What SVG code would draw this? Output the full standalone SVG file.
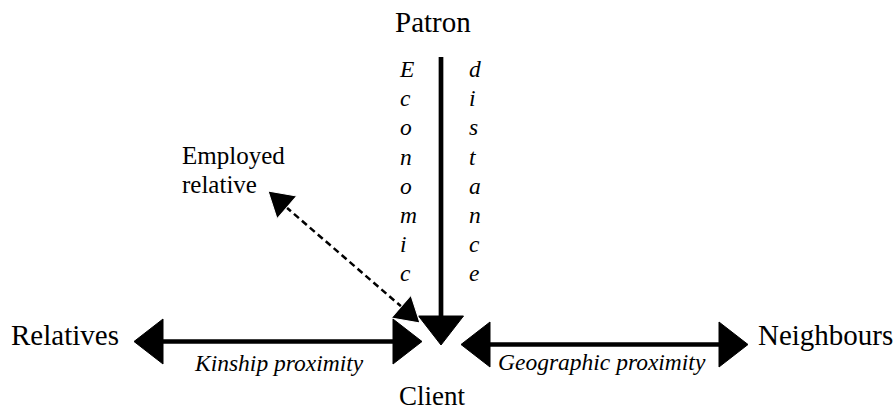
<svg xmlns="http://www.w3.org/2000/svg" width="896" height="410" viewBox="0 0 896 410">
  <defs>
    <polygon id="ah" points="0,0 -29,-22.5 -29,22.5" fill="#000"/>
    <polygon id="ahs" points="0,0 -25,-15 -25,15" fill="#000" stroke="#fff" stroke-width="1"/>
  </defs>
  <rect width="896" height="410" fill="#fff"/>

  <g id="connectors" stroke="#000" fill="none">
    <line x1="441" y1="57" x2="441" y2="318" stroke-width="4.7"/>
    <use href="#ah" transform="translate(441,345) rotate(90)"/>
    <line x1="162" y1="341.5" x2="394" y2="341.5" stroke-width="4.7"/>
    <use href="#ah" transform="translate(134,341.5) rotate(180)"/>
    <use href="#ah" transform="translate(422,341.5)"/>
    <line x1="488" y1="344.5" x2="720" y2="344.5" stroke-width="4.7"/>
    <use href="#ah" transform="translate(461,344.5) rotate(180)"/>
    <use href="#ah" transform="translate(748,344.5)"/>
    <line x1="286" y1="207" x2="403" y2="308" stroke-width="2.5" stroke-dasharray="6.5,4"/>
    <use href="#ahs" transform="translate(268,191) rotate(221)"/>
    <use href="#ahs" transform="translate(420,323) rotate(41)"/>
  </g>

  <g font-family="'Liberation Serif', 'Times New Roman', serif" fill="#000">
    <g id="patron"><text font-size="29" x="395" y="32">Patron</text></g>
    <g id="client"><text font-size="27" x="432" y="405" text-anchor="middle">Client</text></g>
    <g id="relatives"><text font-size="29" x="11" y="345">Relatives</text></g>
    <g id="neighbours"><text font-size="29" x="758" y="345">Neighbours</text></g>
    <g id="employed-relative" font-size="25">
      <text x="182" y="164">Employed</text>
      <text x="182" y="193">relative</text>
    </g>
  </g>

  <g font-family="'Liberation Serif', 'Times New Roman', serif" font-style="italic" font-size="23.5" fill="#000">
    <g id="label-economic">
      <text x="400" y="77">E</text>
      <text x="400" y="106.2">c</text>
      <text x="400" y="135.4">o</text>
      <text x="400" y="164.6">n</text>
      <text x="400" y="193.8">o</text>
      <text x="400" y="223">m</text>
      <text x="400" y="252.2">i</text>
      <text x="400" y="281.4">c</text>
    </g>
    <g id="label-distance">
      <text x="469" y="77">d</text>
      <text x="469" y="106.2">i</text>
      <text x="469" y="135.4">s</text>
      <text x="469" y="164.6">t</text>
      <text x="469" y="193.8">a</text>
      <text x="469" y="223">n</text>
      <text x="469" y="252.2">c</text>
      <text x="469" y="281.4">e</text>
    </g>
    <g id="label-kinship"><text x="195" y="371">Kinship proximity</text></g>
    <g id="label-geographic"><text x="498" y="370">Geographic proximity</text></g>
  </g>
</svg>
